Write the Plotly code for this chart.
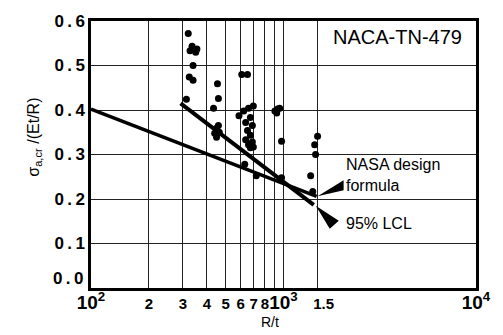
import plotly.graph_objects as go

# ---------------- data ----------------
rt_points = [320, 335, 355, 327, 350, 339, 324, 339, 313,
             454, 459, 433, 449, 439, 464, 459, 449,
             607, 650, 587, 621, 658, 697, 673, 636, 689, 650, 673, 636, 689, 658, 673, 697, 629, 722,
             933, 902, 955, 922, 977, 977,
             1503, 1452, 1468, 1384, 1419]
sigma_points = [0.572, 0.543, 0.537, 0.533, 0.530, 0.500, 0.474, 0.467, 0.424,
                0.459, 0.426, 0.404, 0.359, 0.348, 0.350, 0.365, 0.339,
                0.480, 0.480, 0.387, 0.398, 0.404, 0.409, 0.383, 0.372, 0.365, 0.354, 0.343, 0.333, 0.328, 0.322, 0.315, 0.317, 0.278, 0.252,
                0.402, 0.398, 0.404, 0.393, 0.330, 0.248,
                0.341, 0.322, 0.300, 0.252, 0.217]

lcl_rt = [292, 1436]          # 95% LCL line
lcl_sigma = [0.415, 0.187]
nasa_rt = [100, 1486]         # NASA design formula line
nasa_sigma = [0.402, 0.206]

x_tickvals = [100, 200, 300, 400, 500, 600, 700, 800, 900, 1000, 1500, 10000]
x_ticklabels = ["10<sup>2</sup>", "2", "3", "4", "5", "6", "7", "8", "",
                "10<sup>3</sup>", "1.5", "10<sup>4</sup>"]
y_tickvals = [0.0, 0.1, 0.2, 0.3, 0.4, 0.5, 0.6]
y_ticklabels = ["0.0", "0.1", "0.2", "0.3", "0.4", "0.5", "0.6"]

FONT = "Liberation Sans, Arial, Helvetica, sans-serif"
TS = "\u2009"

big = {"10<sup>2</sup>", "10<sup>3</sup>", "10<sup>4</sup>"}
xt = []
for t in x_ticklabels:
    if t in big:
        xt.append("<span style='font-size:19px'>%s</span>" % t)
    elif t == "1.5":
        xt.append("\u00a0\u00a0\u00a0" + t)
    else:
        xt.append(t)
yt = [TS.join(list(t)) for t in y_ticklabels]
yt_axis = [""] + yt[1:]          # the 0.0 label sits just above the axis, drawn below

fig = go.Figure()
fig.add_trace(go.Scatter(x=nasa_rt, y=nasa_sigma, mode="lines",
                         line=dict(color="black", width=3.5), showlegend=False, hoverinfo="skip"))
fig.add_trace(go.Scatter(x=lcl_rt, y=lcl_sigma, mode="lines",
                         line=dict(color="black", width=4), showlegend=False, hoverinfo="skip"))
fig.add_trace(go.Scatter(x=rt_points, y=sigma_points, mode="markers",
                         marker=dict(color="black", size=7), showlegend=False))

# wedge pointers anchored at line ends
fig.add_shape(type="path", xref="x", yref="y", xsizemode="pixel", ysizemode="pixel",
              xanchor=nasa_rt[-1], yanchor=nasa_sigma[-1],
              path="M1,0 L27,16 L27,6 Z", fillcolor="black", line=dict(width=0))
fig.add_shape(type="path", xref="x", yref="y", xsizemode="pixel", ysizemode="pixel",
              xanchor=lcl_rt[-1], yanchor=lcl_sigma[-1],
              path="M2,-1 L16,-24 L25,-16 Z", fillcolor="black", line=dict(width=0))

def px(xp):
    return (xp - 91) / 396

def py(yp):
    return (288 - yp) / 276

fig.add_annotation(text=yt[0], xref="paper", yref="y", x=px(85), y=y_tickvals[0],
                   xanchor="right", yanchor="bottom", yshift=-2, showarrow=False,
                   font=dict(family=FONT, size=17, color="black", weight="bold"))
fig.add_annotation(text="NACA-TN-479", xref="paper", yref="paper", x=px(406), y=py(29),
                   xanchor="center", yanchor="middle",
                   showarrow=False, font=dict(family=FONT, size=20, color="black"))
fig.add_annotation(text="NASA design<br>formula", xref="paper", yref="paper", x=px(351), y=py(171),
                   xanchor="left", yanchor="middle", align="left", showarrow=False,
                   font=dict(family=FONT, size=16, color="black"))
fig.add_annotation(text="95% LCL", xref="paper", yref="paper", x=px(351), y=py(221),
                   xanchor="left", yanchor="middle", showarrow=False,
                   font=dict(family=FONT, size=16, color="black"))
fig.add_annotation(text="σ<sub>a,cr</sub> /(Et/R)", xref="paper", yref="paper", x=px(32), y=py(132),
                   xanchor="center", yanchor="middle",
                   textangle=-90, showarrow=False, font=dict(family=FONT, size=16, color="black"))
fig.add_annotation(text="R/t", xref="paper", yref="paper", x=px(275), y=py(323),
                   xanchor="center", yanchor="middle",
                   showarrow=False, font=dict(family=FONT, size=14, color="black"))

fig.update_xaxes(type="log", range=[2, 4], tickvals=x_tickvals, ticktext=xt, tickangle=0,
                 showgrid=True, gridcolor="#222", gridwidth=1,
                 showline=True, linecolor="black", linewidth=2.5, mirror=True,
                 ticks="", tickfont=dict(family=FONT, size=15, color="black", weight="bold"),
                 zeroline=False)
fig.update_yaxes(range=[0, 0.6], tickvals=y_tickvals, ticktext=yt_axis,
                 showgrid=True, gridcolor="#222", gridwidth=1,
                 showline=True, linecolor="black", linewidth=2.5, mirror=True,
                 ticks="", tickfont=dict(family=FONT, size=17, color="black", weight="bold"),
                 zeroline=False)
fig.update_layout(width=503, height=335, margin=dict(l=91, r=16, t=12, b=47),
                  plot_bgcolor="white", paper_bgcolor="white", font=dict(family=FONT))
fig.write_html("out.html")
